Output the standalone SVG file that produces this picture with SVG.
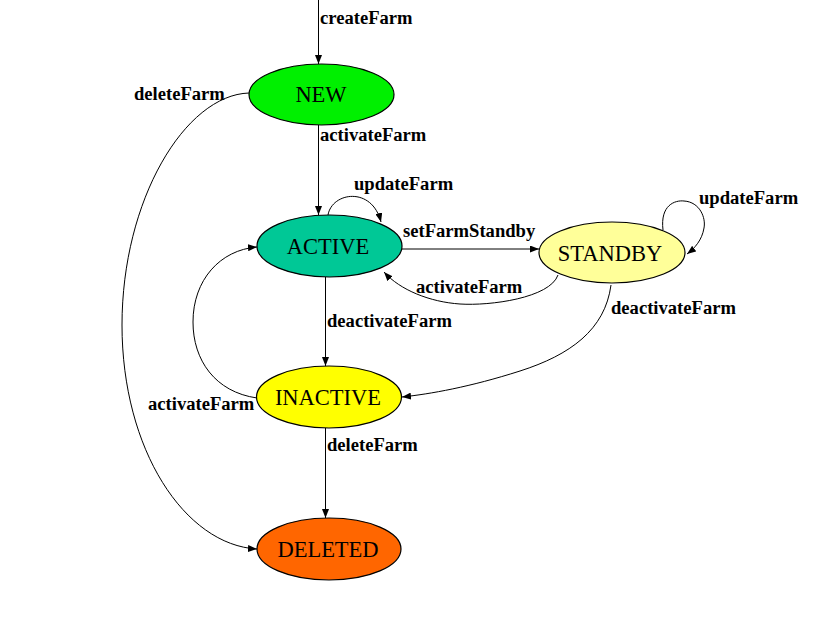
<svg xmlns="http://www.w3.org/2000/svg" width="828" height="621" viewBox="0 0 828 621">
<style>
.node ellipse{stroke:#000;stroke-width:1.2}
.node text{font-family:"Liberation Serif","Times New Roman",serif;font-size:22.5px;text-anchor:middle;fill:#000}
.edge{fill:none;stroke:#000;stroke-width:1}
.lbl{font-family:"Liberation Serif","Times New Roman",serif;font-size:18.6px;font-weight:bold;fill:#000}
</style>
<defs>
<marker id="arr" markerWidth="9" markerHeight="7" refX="9" refY="3.5" orient="auto" markerUnits="userSpaceOnUse">
<path d="M0,0 L9,3.5 L0,7 Z" fill="#000"/>
</marker>
</defs>
<rect width="828" height="621" fill="#fff"/>
<g id="connectors">
<path class="edge" marker-end="url(#arr)" d="M318.5,0 L318.5,64"/>
<path class="edge" marker-end="url(#arr)" d="M318.5,125 L318.5,215"/>
<path class="edge" marker-end="url(#arr)" d="M249,93 C185,95 122,200 122,325 C122,450 185,545 257,549"/>
<path class="edge" marker-end="url(#arr)" d="M328,215 C332,192 372,186 381,222"/>
<path class="edge" marker-end="url(#arr)" d="M402,249 L539,249"/>
<path class="edge" marker-end="url(#arr)" d="M663,230 C660,205 675,200 684,201 C700,202 706,218 704,228 C702,240 695,248 687,254"/>
<path class="edge" marker-end="url(#arr)" d="M558,275 C550,298 490,306 460,304 C430,302 400,290 384,272"/>
<path class="edge" marker-end="url(#arr)" d="M611,285 C605,330 570,355 520,371 C470,387 430,394 402,397"/>
<path class="edge" marker-end="url(#arr)" d="M325.5,277 L325.5,366"/>
<path class="edge" marker-end="url(#arr)" d="M257,398 C215,392 193,360 193,322 C193,280 220,250 257,247"/>
<path class="edge" marker-end="url(#arr)" d="M325.5,428 L325.5,518"/>
<text class="lbl" x="320" y="24">createFarm</text>
<text class="lbl" x="134" y="100">deleteFarm</text>
<text class="lbl" x="320" y="141">activateFarm</text>
<text class="lbl" x="354" y="190">updateFarm</text>
<text class="lbl" x="403" y="237">setFarmStandby</text>
<text class="lbl" x="699" y="204">updateFarm</text>
<text class="lbl" x="416" y="293">activateFarm</text>
<text class="lbl" x="611" y="314">deactivateFarm</text>
<text class="lbl" x="327" y="327">deactivateFarm</text>
<text class="lbl" x="148" y="410">activateFarm</text>
<text class="lbl" x="327" y="451">deleteFarm</text>
</g>
<g id="node-new" class="node">
<ellipse cx="321.5" cy="94.5" rx="72.5" ry="30.5" fill="#00F000"/>
<text x="321" y="102">NEW</text>
</g>
<g id="node-active" class="node">
<ellipse cx="329.5" cy="246" rx="72.5" ry="31" fill="#00C896"/>
<text x="328" y="254">ACTIVE</text>
</g>
<g id="node-standby" class="node">
<ellipse cx="612" cy="252.5" rx="73" ry="30.5" fill="#FFFF99"/>
<text x="610" y="261">STANDBY</text>
</g>
<g id="node-inactive" class="node">
<ellipse cx="329" cy="397" rx="72.5" ry="31" fill="#FFFF00"/>
<text x="328" y="405">INACTIVE</text>
</g>
<g id="node-deleted" class="node">
<ellipse cx="329" cy="549" rx="72" ry="31" fill="#FF6600"/>
<text x="328" y="557">DELETED</text>
</g>
</svg>
